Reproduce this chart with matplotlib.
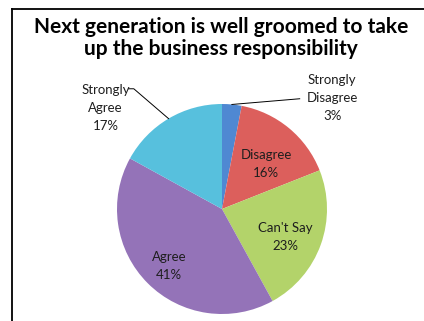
import matplotlib
matplotlib.use("Agg")
import matplotlib.pyplot as plt
import numpy as np
from matplotlib.lines import Line2D

title = "Next generation is well groomed to take\nup the business responsibility"
categories = ["Strongly\nDisagree", "Disagree", "Can't Say", "Agree", "Strongly\nAgree"]
shares = [3, 16, 23, 41, 17]
colours = ["#4F88D2", "#DC5F5C", "#B3D36A", "#9473B8", "#57C0DD"]

plt.rcParams['font.family'] = ['Lato', 'DejaVu Sans']

fig = plt.figure(figsize=(4.24, 3.21), dpi=100)
W, H = 424, 321

# chart frame (left and top edges only are inside the image)
fig.add_artist(Line2D([11.5 / W, 11.5 / W], [0, 1 - 9 / H], color="black", lw=1.3, transform=fig.transFigure))
fig.add_artist(Line2D([11.5 / W, 1], [1 - 9 / H, 1 - 9 / H], color="black", lw=1.3, transform=fig.transFigure))

fig.text(221 / W, 1 - 38 / H, title, ha="center", va="center", fontsize=15,
         fontweight="bold", linespacing=1.12, color="black")

cx, cy, r = 222, 209, 105
ax = fig.add_axes([(cx - r) / W, (H - cy - r) / H, 2 * r / W, 2 * r / H])
wedges, _ = ax.pie(shares, colors=colours, startangle=90, counterclock=False,
                   radius=1, wedgeprops=dict(linewidth=0))
ax.set_xlim(-1, 1)
ax.set_ylim(-1, 1)
ax.set_aspect("equal")
ax.axis("off")

txt = dict(ha="center", va="center", fontsize=9.5, color="#1e1e1e", linespacing=1.6)

# inside labels
inside = {1: (0.60, -5), 2: (0.66, -4), 3: (0.74, 2)}
for i, (dist, shift) in inside.items():
    w = wedges[i]
    ang = np.deg2rad((w.theta1 + w.theta2) / 2 + shift)
    ax.text(dist * np.cos(ang), dist * np.sin(ang),
            f"{categories[i]}\n{shares[i]}%", **txt)

# outside labels with leader lines
outside = {0: (1.05, 1.06, 0.74, 1.05), 4: (-1.11, 0.96, -0.84, 1.145)}
for i, (tx, ty, lx, ly) in outside.items():
    w = wedges[i]
    ang = np.deg2rad((w.theta1 + w.theta2) / 2)
    ex, ey = np.cos(ang), np.sin(ang)
    ax.text(tx, ty, f"{categories[i]}\n{shares[i]}%", clip_on=False, **txt)
    if i == 4:
        ax.plot([lx - 0.05, lx, ex], [ly, ly, ey], color="black", lw=0.7, clip_on=False)
    else:
        ax.plot([ex, lx], [ey, ly], color="black", lw=0.7, clip_on=False)

fig.savefig("out.png", dpi=100)
